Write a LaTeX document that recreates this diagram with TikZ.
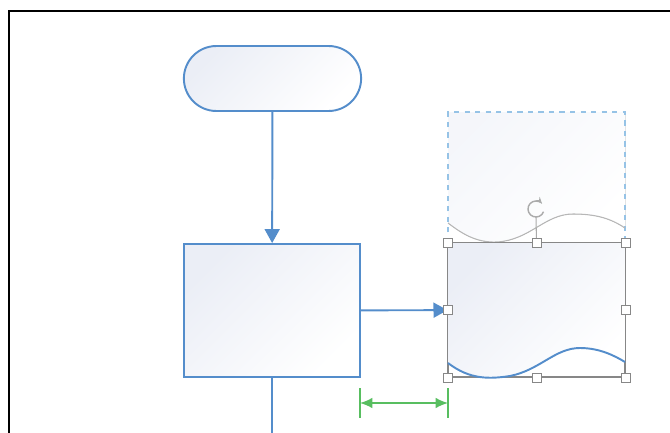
\documentclass[tikz,border=0pt]{standalone}
\usepackage{tikz}
\usetikzlibrary{arrows.meta, positioning, shapes.misc, calc}
\definecolor{bleu}{RGB}{84,141,203}
\definecolor{bleupale}{RGB}{150,195,230}
\definecolor{gris}{RGB}{135,135,135}
\definecolor{vert}{RGB}{88,190,96}
\definecolor{fond}{RGB}{235,238,246}

\begin{document}
\begin{tikzpicture}[x=0.02cm, y=-0.02cm,
  forme/.style={draw=bleu, line width=1.1pt, top color=fond, bottom color=white, shading angle=45},
  poignee/.style={draw=gris, fill=white, minimum size=0.18cm, inner sep=0pt, line width=0.5pt},
  fleche/.style={bleu, line width=1.1pt, -{Triangle[length=0.28cm, width=0.3cm]}}]
	\useasboundingbox (0,0) rectangle (670,433);
	% cadre
	\draw[line width=1.2pt] (9,433) -- (9,11) -- (670,11);
	\node[forme, rounded rectangle, minimum width=3.78cm, minimum height=1.3cm] (debut) at (272.5,78.5) {};
	\node[forme, rectangle, minimum width=3.52cm, minimum height=2.66cm] (etape) at (272,310.5) {};
	\coordinate (bas) at (272,433);
	% fantome du document deplace
	\fill[top color=fond!50, bottom color=white, shading angle=45] (448,112) -- (625,112) -- (625,228)
		.. controls (610,218) and (595,214) .. (573,214) .. controls (545,214) and (530,240) .. (497,242)
		.. controls (475,243) and (460,232) .. (448,223) -- cycle;
	\draw[bleupale, dashed, line width=0.8pt] (448,243) -- (448,112) -- (625,112) -- (625,243);
	\draw[gris!60, line width=0.6pt] (448,223) .. controls (460,232) and (475,243) .. (497,242)
		.. controls (530,240) and (545,214) .. (573,214) .. controls (595,214) and (610,218) .. (625,228);
	% document selectionne
	\node[draw=gris, line width=0.6pt, minimum width=3.54cm, minimum height=2.68cm] (doc) at (536.5,310) {};
	\fill[top color=fond, bottom color=white, shading angle=45] (doc.north west) -- (doc.north east) -- (625,362)
		.. controls (615,356) and (600,348) .. (580,348) .. controls (555,348) and (540,370) .. (510,376)
		.. controls (490,379) and (470,380) .. (448,363) -- cycle;
	\draw[gris, line width=0.6pt] (doc.north west) rectangle (doc.south east);
	\draw[bleu, line width=1.1pt] (448,363) .. controls (470,380) and (490,379) .. (510,376)
		.. controls (540,370) and (555,348) .. (580,348) .. controls (600,348) and (615,356) .. (625,362);
	\draw[fleche] (debut) -- (etape);
	\draw[bleu, line width=1.1pt] (etape) -- (bas);
	\draw[fleche] (etape) -- (doc);
	% poignee de rotation
	\coordinate (rot) at (536,209);
	\draw[gris!70, line width=0.6pt] (rot) ++(0,8) -- (doc.north);
	\draw[gris!70, line width=0.8pt, -{Stealth[length=4pt]}] (rot) ++(20:8) arc (20:320:8);
	\foreach \a/\n in {north west/1, north/2, north east/3, west/4, east/5, south west/6, south/7, south east/8}
		\node[poignee] (p\n) at (doc.\a) {};
	% cote d'espacement
	\coordinate (g1) at (360,403);
	\coordinate (g2) at (448,403);
	\draw[vert, line width=0.6pt] ($(g1)+(0,-15)$) -- ($(g1)+(0,15)$);
	\draw[vert, line width=0.6pt] ($(g2)+(0,-15)$) -- ($(g2)+(0,15)$);
	\draw[vert, line width=0.9pt, {Latex[length=7pt, width=6pt]}-{Latex[length=7pt, width=6pt]}] (g1) -- (g2);
\end{tikzpicture}
\end{document}
